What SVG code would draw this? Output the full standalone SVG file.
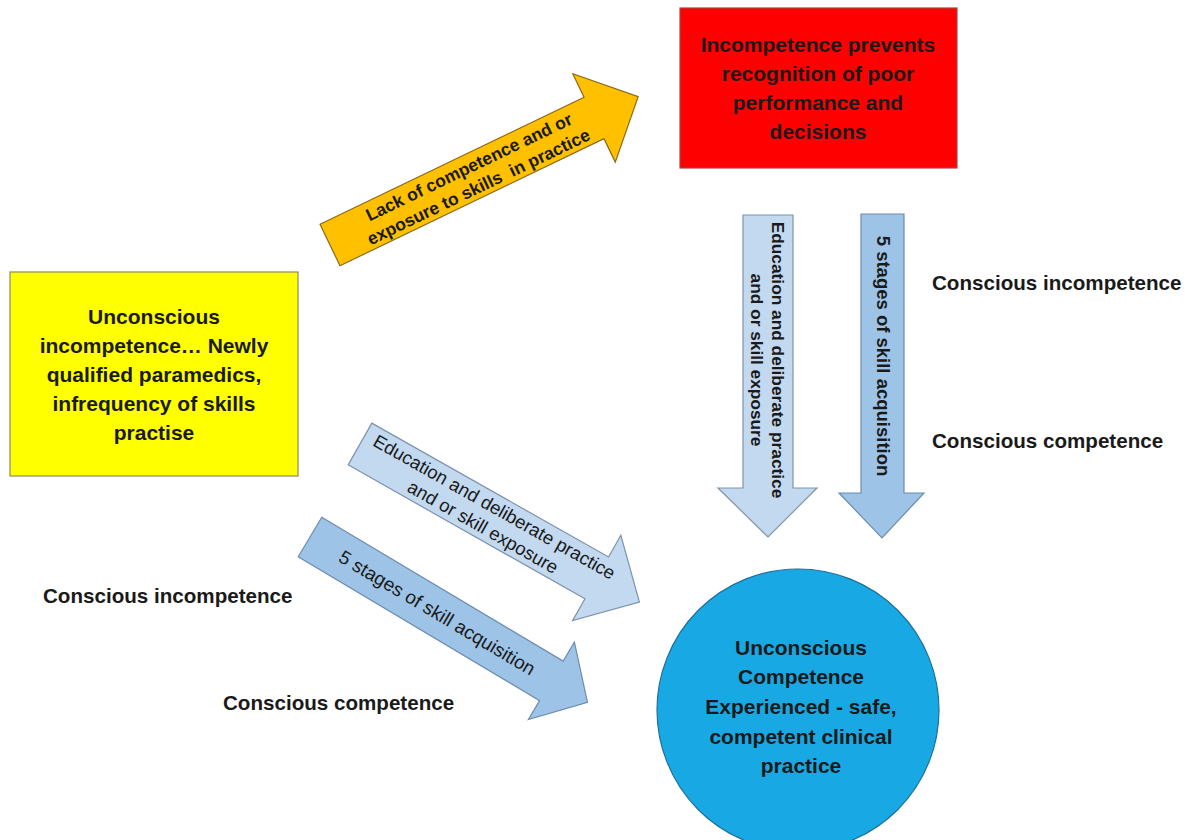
<svg xmlns="http://www.w3.org/2000/svg" width="1195" height="840" viewBox="0 0 1195 840">
<style>
  .t { font-family: "Liberation Sans", Arial, sans-serif; font-weight: bold; fill: #1a1a1a; text-anchor: middle; }
  .box { font-size: 21px; }
  .lbl { font-family: "Liberation Sans", Arial, sans-serif; font-weight: bold; font-size: 20.6px; fill: #1a1a1a; }
  .arr { stroke-width: 1.2; stroke-linejoin: miter; }
  .orange { fill: #FFC000; stroke: #8a6a1a; }
  .lblue { fill: #C3D9F0; stroke: #7d93ad; }
  .mblue { fill: #9DC3E6; stroke: #6e8cae; }
  .at { font-family: "Liberation Sans", Arial, sans-serif; fill: #1a1a1a; text-anchor: middle; }
</style>
<rect width="1195" height="840" fill="#ffffff"/>

<g id="connectors">
  <g id="arrow-lack" transform="translate(330,245) rotate(-25.7)">
    <polygon class="arr orange" points="0,-23 293,-23 293,-49 342,0 293,49 293,23 0,23"/>
    <text class="at" font-weight="bold" font-size="17.5" x="159" y="-4">Lack of competence and or</text>
    <text class="at" font-weight="bold" font-size="17.5" x="159" y="18" xml:space="preserve">exposure to skills  in practice</text>
  </g>
  <g id="arrow-edu-diag" transform="translate(360,444) rotate(29.5)">
    <polygon class="arr lblue" points="0,-24 272,-24 272,-49 321,0 272,49 272,24 0,24"/>
    <text class="at" font-size="18.5" x="148" y="-5">Education and deliberate practice</text>
    <text class="at" font-size="18.5" x="148" y="18">and or skill exposure</text>
  </g>
  <g id="arrow-stages-diag" transform="translate(310,537) rotate(30.8)">
    <polygon class="arr mblue" points="0,-23 281,-23 281,-45 323,0 281,45 281,23 0,23"/>
    <text class="at" font-size="19" x="148" y="6.5">5 stages of skill acquisition</text>
  </g>
  <g id="arrow-edu-vert">
    <polygon class="arr lblue" points="743,215 793,215 793,488 817,488 768,537 718,488 743,488"/>
    <g transform="translate(768,360) rotate(90)">
      <text class="at" font-weight="bold" font-size="17.3" x="0" y="-4">Education and deliberate practice</text>
      <text class="at" font-weight="bold" font-size="17.3" x="0" y="17">and or skill exposure</text>
    </g>
  </g>
  <g id="arrow-stages-vert">
    <polygon class="arr mblue" points="861,214 904,214 904,493 924,493 882,538 839,493 861,493"/>
    <g transform="translate(883,356) rotate(90)">
      <text class="at" font-weight="bold" font-size="18.5" x="0" y="6.5">5 stages of skill acquisition</text>
    </g>
  </g>
</g>

<g id="node-unconscious-incompetence">
  <rect x="10" y="272" width="288" height="204" fill="#FFFF00" stroke="#8c8c5a" stroke-width="1.2"/>
  <text class="t box" x="154" y="324">Unconscious</text>
  <text class="t box" x="154" y="353">incompetence… Newly</text>
  <text class="t box" x="154" y="382">qualified paramedics,</text>
  <text class="t box" x="154" y="411">infrequency of skills</text>
  <text class="t box" x="154" y="440">practise</text>
</g>

<g id="node-incompetence-prevents">
  <rect x="680" y="8" width="277" height="160" fill="#FF0000" stroke="#b04040" stroke-width="1.2"/>
  <text class="t box" x="818" y="52" fill="#2a0505">Incompetence prevents</text>
  <text class="t box" x="818" y="81" fill="#2a0505">recognition of poor</text>
  <text class="t box" x="818" y="110" fill="#2a0505">performance and</text>
  <text class="t box" x="818" y="139" fill="#2a0505">decisions</text>
</g>

<g id="node-unconscious-competence">
  <circle cx="798" cy="710" r="141" fill="#18A9E4" stroke="#1f6f9a" stroke-width="1.2"/>
  <text class="t box" x="801" y="655" fill="#0c1a33">Unconscious</text>
  <text class="t box" x="801" y="684" fill="#0c1a33">Competence</text>
  <text class="t box" x="801" y="714" fill="#0c1a33">Experienced - safe,</text>
  <text class="t box" x="801" y="744" fill="#0c1a33">competent clinical</text>
  <text class="t box" x="801" y="773" fill="#0c1a33">practice</text>
</g>

<g id="labels">
  <text class="lbl" x="932" y="290">Conscious incompetence</text>
  <text class="lbl" x="932" y="448">Conscious competence</text>
  <text class="lbl" x="43" y="603">Conscious incompetence</text>
  <text class="lbl" x="223" y="710">Conscious competence</text>
</g>
</svg>
